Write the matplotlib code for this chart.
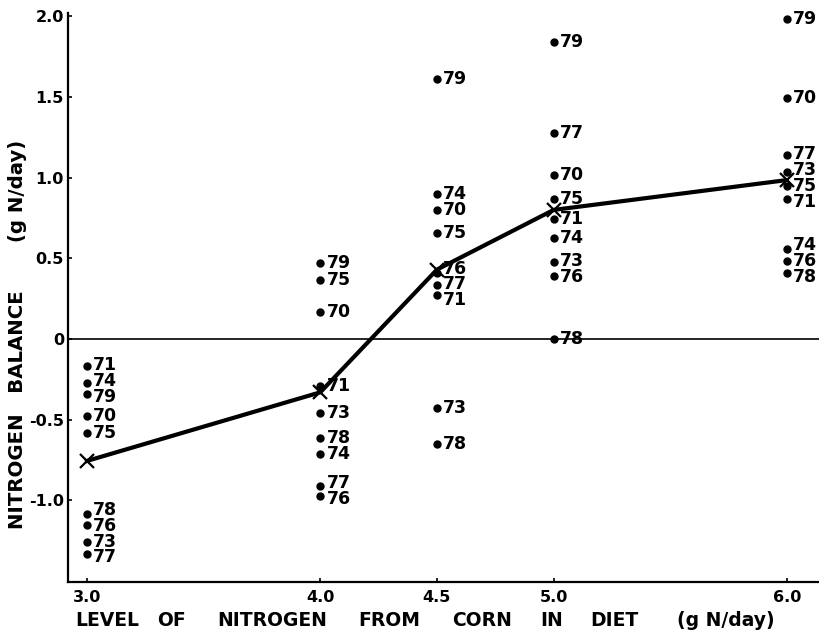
import matplotlib
matplotlib.use('Agg')
import matplotlib.pyplot as plt

# nitrogen intake levels from corn (g N/day)
levels = [3.0, 4.0, 4.5, 5.0, 6.0]
level_labels = ['3.0', '4.0', '4.5', '5.0', '6.0']

# nitrogen balance of each animal (g N/day), grouped by level
ids_30 = ['71', '74', '79', '70', '75', '78', '76', '73', '77']
bal_30 = [-0.17, -0.27, -0.34, -0.475, -0.58, -1.085, -1.15, -1.26, -1.33]

ids_40 = ['79', '75', '70', '71', '73', '78', '74', '77', '76']
bal_40 = [0.47, 0.365, 0.165, -0.29, -0.46, -0.61, -0.71, -0.91, -0.97]

ids_45 = ['79', '74', '70', '75', '76', '77', '71', '73', '78']
bal_45 = [1.61, 0.90, 0.80, 0.655, 0.41, 0.335, 0.27, -0.43, -0.65]

ids_50 = ['79', '77', '70', '75', '71', '74', '73', '76', '78']
bal_50 = [1.84, 1.275, 1.015, 0.865, 0.745, 0.625, 0.48, 0.39, 0.0]

ids_60 = ['79', '70', '77', '73', '75', '71', '74', '76', '78']
bal_60 = [1.98, 1.495, 1.14, 1.035, 0.95, 0.865, 0.56, 0.485, 0.41]

# group means
mean_bal = [-0.755, -0.33, 0.43, 0.80, 0.985]

yticks = [2.0, 1.5, 1.0, 0.5, 0, -0.5, -1.0]
ytick_labels = ['2.0', '1.5', '1.0', '0.5', '0', '-0.5', '-1.0']

groups = [(ids_30, bal_30), (ids_40, bal_40), (ids_45, bal_45),
          (ids_50, bal_50), (ids_60, bal_60)]


def spread(ys, gap, n_iter=60):
    # push label heights apart so neighbouring numbers don't collide
    order = sorted(range(len(ys)), key=lambda i: -ys[i])
    pos = [ys[i] for i in order]
    for _ in range(n_iter):
        moved = False
        for k in range(len(pos) - 1):
            d = pos[k] - pos[k + 1]
            if d < gap - 1e-9:
                shift = (gap - d) / 2
                pos[k] += shift
                pos[k + 1] -= shift
                moved = True
        if not moved:
            break
    out = [0.0] * len(ys)
    for i, p in zip(order, pos):
        out[i] = p
    return out


fig = plt.figure(figsize=(8.2, 6.35), dpi=100)
ax = fig.add_axes([0.083, 0.0835, 0.917, 0.896])

for lv, (ids, bal) in zip(levels, groups):
    ax.plot([lv] * len(bal), bal, 'o', color='black', markersize=5, zorder=3)
    label_y = spread(bal, 0.098)
    for name, b, ly in zip(ids, bal, label_y):
        ax.annotate(name, (lv, ly), xytext=(4.5, 0), textcoords='offset points',
                    ha='left', va='center', fontsize=12.5, fontweight='bold',
                    color='black')

ax.plot(levels, mean_bal, color='black', linewidth=3, marker='x',
        markersize=10, markeredgewidth=1.6, zorder=4)

ax.axhline(0, color='black', linewidth=1.2, zorder=1)

ax.set_xlim(2.919, 6.142)
ax.set_ylim(-1.505, 2.02)
ax.set_xticks(levels)
ax.set_xticklabels(level_labels)
ax.set_yticks(yticks)
ax.set_yticklabels(ytick_labels)

for side in ['top', 'right']:
    ax.spines[side].set_visible(False)
for side in ['left', 'bottom']:
    ax.spines[side].set_linewidth(1.6)

ax.tick_params(direction='in', length=3, width=1.2, labelsize=11.5, pad=3)
ax.tick_params(axis='x', pad=6)
for lab in ax.get_xticklabels() + ax.get_yticklabels():
    lab.set_fontweight('bold')

# x-axis title, one word at a time to keep the wide lettering
xwords = ['LEVEL', 'OF', 'NITROGEN', 'FROM', 'CORN', 'IN', 'DIET', '(g N/day)']
xword_left = [75, 157, 217, 358, 452, 540, 590, 677]
for w, px in zip(xwords, xword_left):
    fig.text(px / 820, 1 - 620 / 635, w, ha='left', va='center',
             fontsize=13.5, fontweight='bold')

fig.text(18 / 820, 1 - 334 / 635, 'NITROGEN   BALANCE       (g N/day)',
         rotation=90, ha='center', va='center', fontsize=14.2,
         fontweight='bold')

fig.savefig('out.png', dpi=100)
